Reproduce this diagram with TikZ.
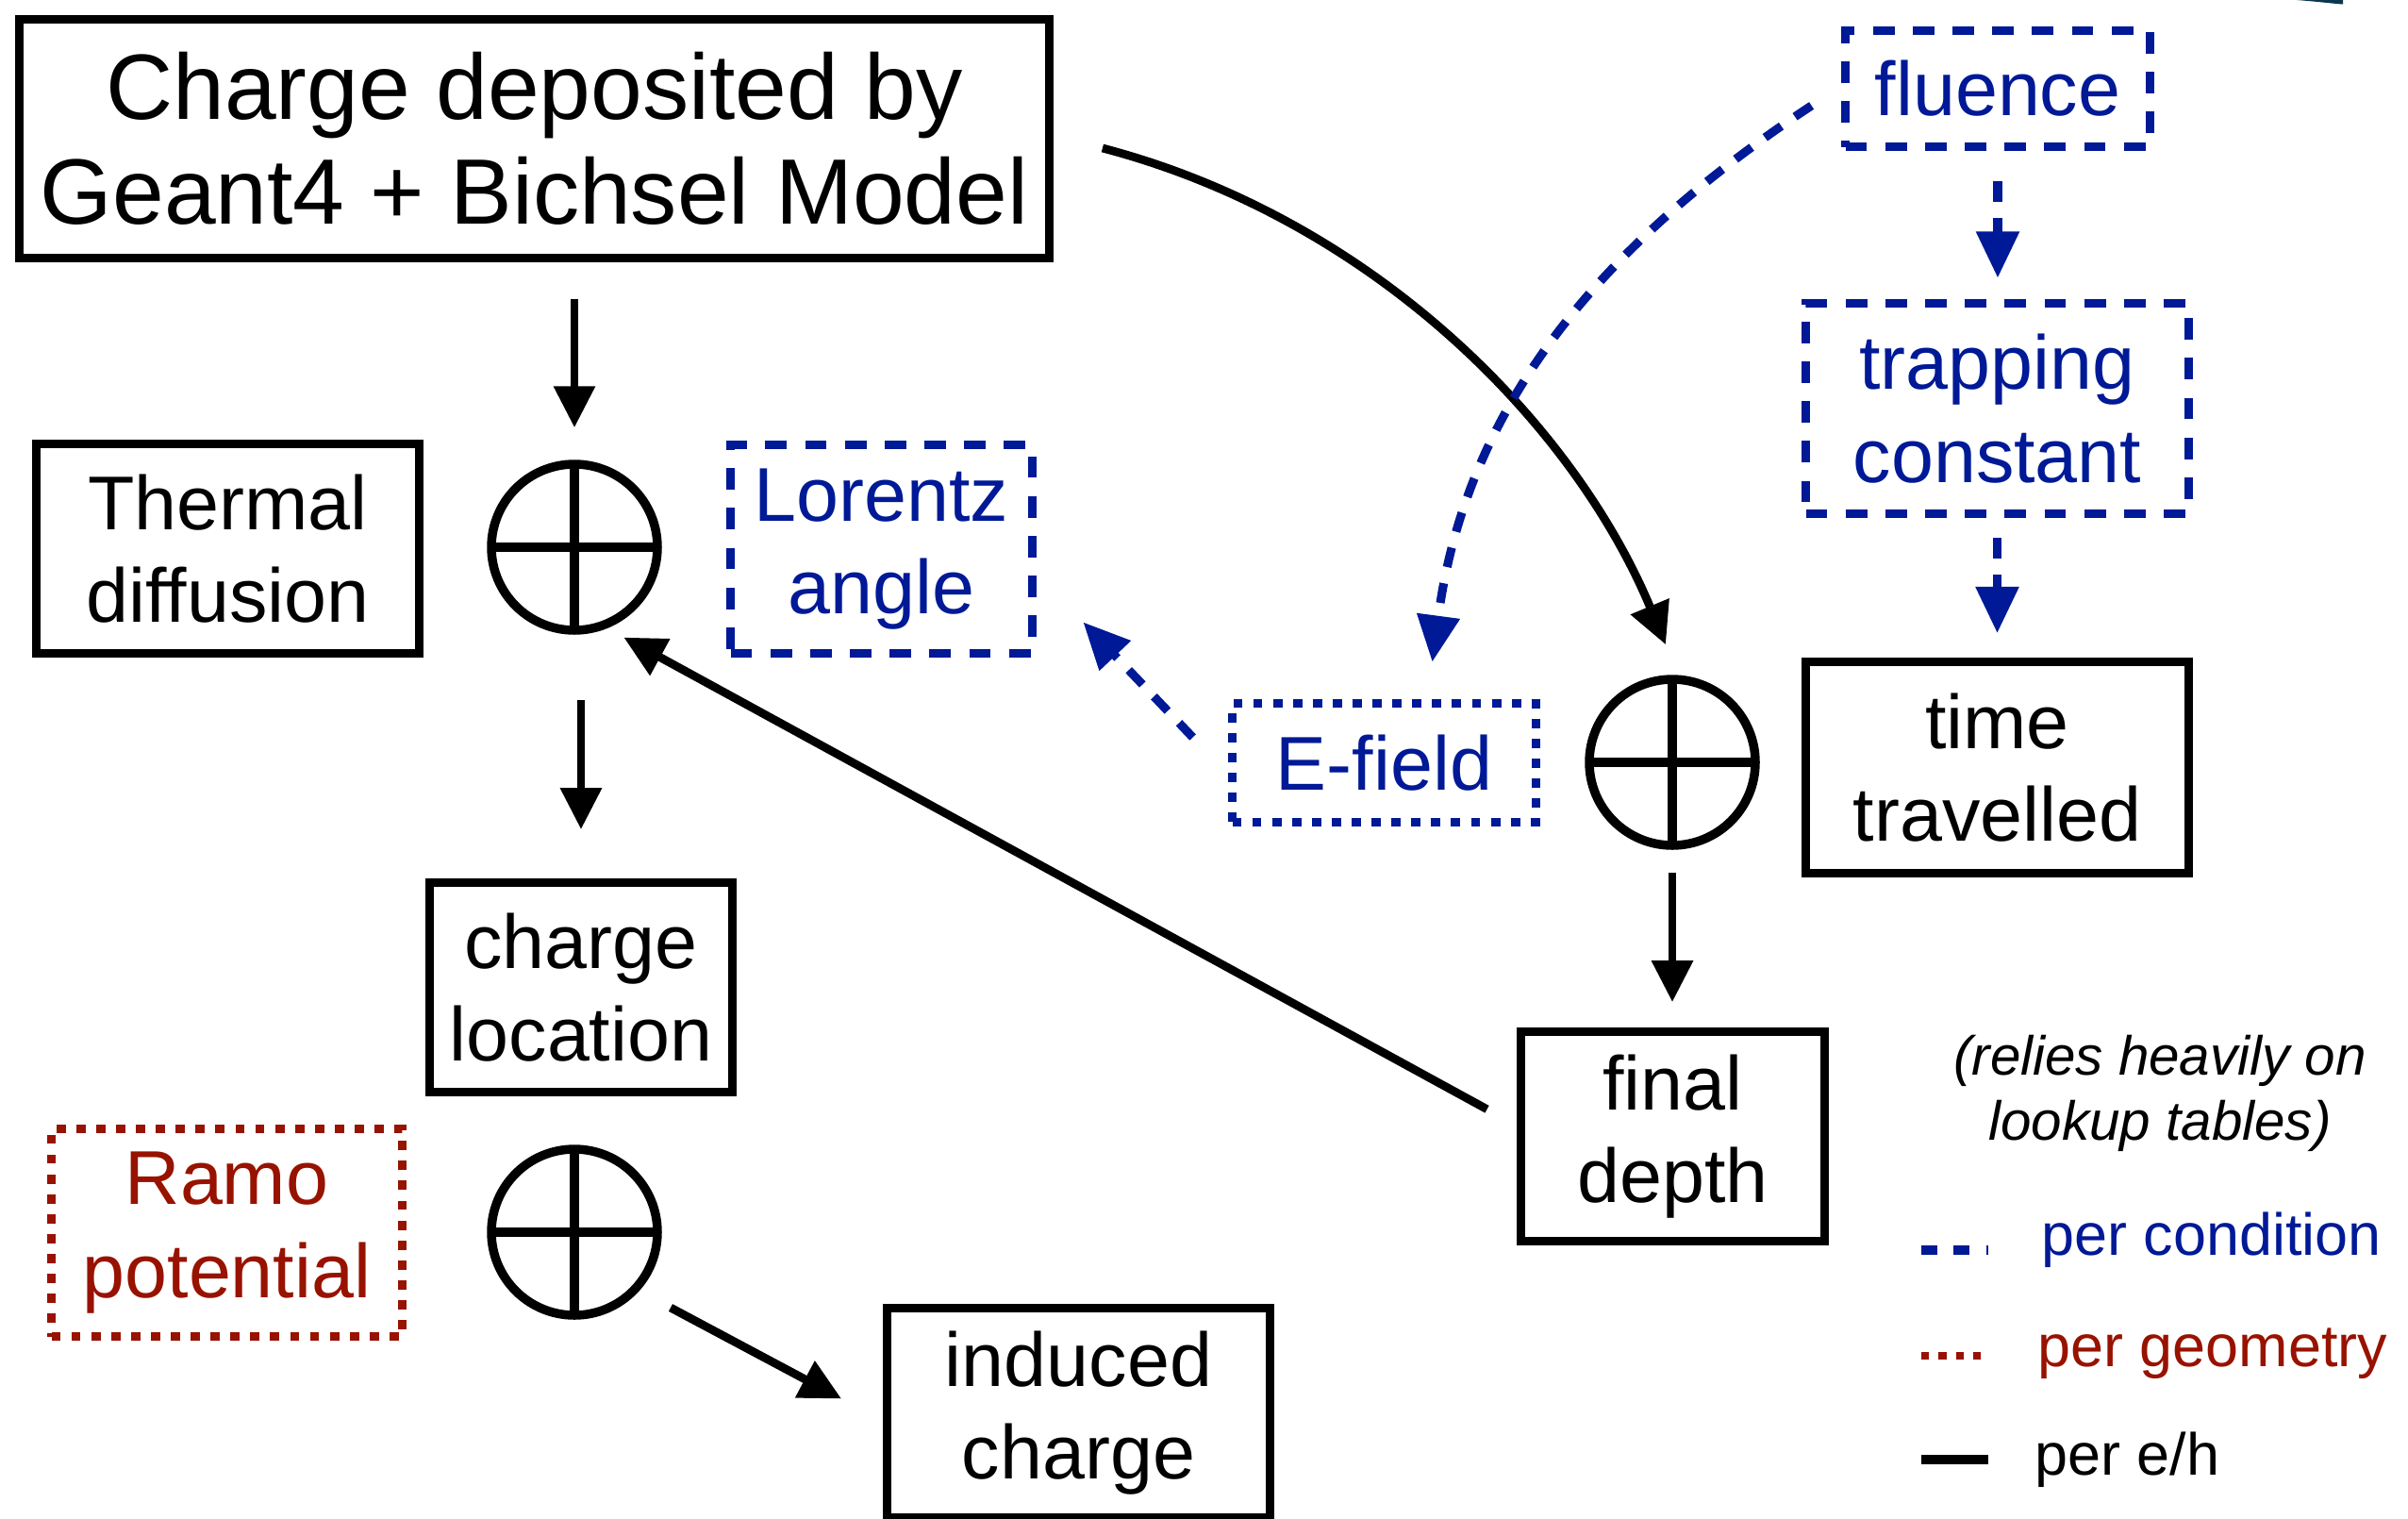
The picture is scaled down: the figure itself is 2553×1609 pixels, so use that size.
\documentclass[tikz,border=0pt]{standalone}
\usepackage{fontspec}
\setmainfont{Liberation Sans}
\usetikzlibrary{arrows.meta,calc}
\definecolor{cblue}{RGB}{0,25,150}
\definecolor{cred}{RGB}{152,18,0}
\definecolor{cteal}{RGB}{10,55,80}
\begin{document}
\begin{tikzpicture}[x=0.1mm,y=-0.1mm,
  box/.style={draw, line width=2.5pt, align=center, inner sep=0pt, font=\fontsize{23}{28}\selectfont},
  cond/.style={box, draw=cblue, text=cblue, line width=2.8pt, dash pattern=on 6.5pt off 5.5pt},
  condot/.style={box, draw=cblue, text=cblue, line width=2.8pt, dash pattern=on 2.8pt off 3.2pt},
  geom/.style={box, draw=cred, text=cred, line width=2.8pt, dash pattern=on 2.8pt off 3.2pt},
  oplus/.style={circle, draw, line width=2.7pt, minimum size=17.6mm, inner sep=0pt,
    path picture={\draw[line width=2.7pt] (path picture bounding box.north) -- (path picture bounding box.south)
      (path picture bounding box.west) -- (path picture bounding box.east);}},
  arr/.style={line width=2.5pt, -{Triangle[length=12.5pt,width=12pt]}},
  carr/.style={color=cblue, line width=2.6pt, dash pattern=on 6pt off 5pt, -{Triangle[length=14pt,width=12.5pt]}},
  legtext/.style={anchor=base west, font=\fontsize{17.9}{21}\selectfont}
]
\useasboundingbox (0,0) rectangle (2553,1609);
\clip (0,0) rectangle (2553,1609);

% nodes
\node[box, minimum width=109.2mm, minimum height=25.3mm, font=\fontsize{28}{31.6}\selectfont] (dep) at (566.5,147) {Charge deposited by\\Geant4 + Bichsel Model};
\node[box, minimum width=40.6mm, minimum height=22.2mm] (therm) at (241.5,581.5) {Thermal\\diffusion};
\node[oplus] (c1) at (609,580) {};
\node[cond, minimum width=32mm, minimum height=22.1mm] (lor) at (934.5,582) {Lorentz\\angle};
\node[cond, minimum width=32.3mm, minimum height=12.3mm] (flu) at (2118,94) {fluence};
\node[cond, minimum width=40.6mm, minimum height=22.3mm] (trap) at (2117.5,433) {trapping\\constant};
\node[condot, minimum width=32.2mm, minimum height=12.6mm] (ef) at (1467.5,808.5) {E-field};
\node[oplus] (c2) at (1773,808) {};
\node[box, minimum width=40.6mm, minimum height=22.4mm] (time) at (2117.5,813.5) {time\\travelled};
\node[box, minimum width=32.1mm, minimum height=22.2mm] (loc) at (616,1046.5) {charge\\location};
\node[box, minimum width=32.2mm, minimum height=22.2mm] (depth) at (1773.5,1204.5) {final\\depth};
\node[geom, minimum width=37.2mm, minimum height=22mm] (ramo) at (240.5,1306.5) {Ramo\\potential};
\node[oplus] (c3) at (609,1306) {};
\node[box, minimum width=40.6mm, minimum height=22.2mm] (ind) at (1143.5,1497.5) {induced\\charge};

% black connectors
\draw[arr, shorten <=3.9mm, shorten >=3.4mm] (dep.south -| c1.center) -- (c1.north);
\draw[arr, shorten <=6.9mm, shorten >=5.2mm] (c1.south -| loc.north) -- (loc.north);
\draw[arr, shorten <=3.6mm, shorten >=2mm] (depth.176) -- (c1.-68);
\coordinate (cs) at ($(dep.east)+(52,10)$);
\coordinate (ce) at ($(c2.north)+(-7,-32)$);
\draw[arr] (cs) .. controls ($(cs)+(290,76)$) and ($(ce)+(-96,-231)$) .. (ce);
\draw[arr, shorten <=2.4mm, shorten >=2.7mm] (c2.south) -- (c2.south |- depth.north);
\draw[arr] ($(c3.center)+(102,80)$) -- ($(ind.west)+(-44,-15)$);

% blue connectors
\coordinate (fs) at ($(flu.west)+(-31,18)$);
\coordinate (fe) at ($(ef.north)+(51,-39)$);
\draw[carr] (fs) .. controls ($(fs)+(-251,165)$) and ($(fe)+(33,-248)$) .. (fe);
\draw[carr, shorten <=3.2mm, shorten >=2.2mm] (flu.south) -- (flu.south |- trap.north);
\draw[carr, shorten <=2.1mm, shorten >=2.6mm] (trap.south) -- (trap.south |- time.north);
\draw[carr] ($(ef.west)+(-37,-27)$) -- ($(lor.south east)+(49,-38)$);

% legend
\node[font=\fontsize{16.6}{19.6}\selectfont\itshape, align=center] (note) at (2290,1159) {(relies heavily on\\lookup tables)};
\coordinate (lg1a) at (2037,1325); \coordinate (lg1b) at (2108,1325);
\coordinate (lg2a) at (2037,1437); \coordinate (lg2b) at (2108,1437);
\coordinate (lg3a) at (2037,1547); \coordinate (lg3b) at (2108,1547);
\draw[cblue, line width=2.8pt, dash pattern=on 4.8pt off 5pt] (lg1a) -- (lg1b);
\draw[cred, line width=2.3pt, dash pattern=on 2.4pt off 2.8pt] (lg2a) -- (lg2b);
\draw[line width=3.1pt] (lg3a) -- (lg3b);
\node[legtext, text=cblue] (lgc) at (2152,1330) {per condition};
\node[legtext, text=cred] (lgg) at (2148,1448) {per geometry};
\node[legtext] (lge) at (2145,1563) {per e/h};

% partial shape at top right edge
\fill[cteal] (2435,0) .. controls (2460,2) and (2475,4) .. (2484,4.5) -- (2484,0) -- cycle;
\end{tikzpicture}
\end{document}
